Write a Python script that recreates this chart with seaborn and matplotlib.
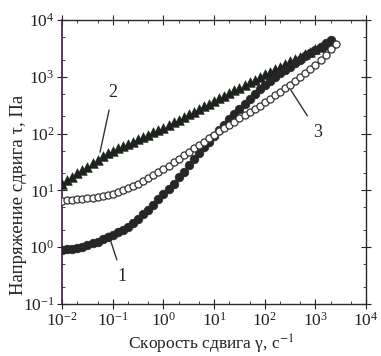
import pandas as pd
import seaborn as sns
import matplotlib
matplotlib.use("Agg")
import matplotlib.pyplot as plt
from matplotlib.ticker import LogLocator, NullFormatter

# shear rate grid, 1/s (~10 points per decade)
gamma = [0.01, 0.0126, 0.0158, 0.02, 0.0251, 0.0316, 0.0398, 0.0501, 0.0631, 0.0794,
         0.1, 0.126, 0.158, 0.2, 0.251, 0.316, 0.398, 0.501, 0.631, 0.794,
         1, 1.26, 1.58, 2.0, 2.51, 3.16, 3.98, 5.01, 6.31, 7.94,
         10, 12.6, 15.8, 20, 25.1, 31.6, 39.8, 50.1, 63.1, 79.4,
         100, 126, 158, 200, 251, 316, 398, 501, 631, 794,
         1000, 1259, 1585, 1995, 2512]

# curve 1 - filled circles
tau1 = [0.891, 0.912, 0.933, 0.977, 1.02, 1.10, 1.18, 1.26, 1.38, 1.51,
        1.66, 1.82, 2.04, 2.29, 2.69, 3.16, 3.80, 4.57, 5.62, 6.92,
        8.51, 10.5, 13.2, 17.0, 21.4, 27.5, 35.5, 44.7, 57.5, 72.4,
        91.2, 115, 141, 178, 219, 269, 331, 407, 501, 617,
        724, 851, 1000, 1148, 1318, 1514, 1738, 1995, 2291, 2630,
        2951, 3388, 3890, 4365]

# curve 2 - triangles
tau2 = [13.2, 15.1, 17.4, 20.0, 22.9, 26.3, 30.2, 34.7, 39.8, 44.7,
        50.1, 55.0, 60.3, 66.1, 72.4, 79.4, 87.1, 95.5, 105, 115,
        126, 141, 158, 174, 195, 219, 240, 269, 302, 331,
        372, 417, 457, 513, 575, 631, 708, 794, 871, 977,
        1096, 1202, 1349, 1514, 1660, 1862, 2042, 2239, 2512, 2754,
        3020, 3311, 3631, 3981]

# curve 3 - open circles
tau3 = [6.61, 6.76, 6.76, 6.92, 7.08, 7.24, 7.41, 7.76, 7.94, 8.32,
        8.71, 9.33, 10.0, 11.0, 12.0, 13.2, 14.8, 16.6, 18.6, 20.9,
        23.4, 26.9, 31.6, 36.3, 41.7, 47.9, 55.0, 63.1, 72.4, 83.2,
        95.5, 110, 126, 141, 162, 186, 214, 240, 275, 309,
        355, 407, 468, 537, 631, 724, 851, 977, 1148, 1349,
        1585, 1950, 2399, 3020, 3802]

sns.set_style("ticks")
plt.rcParams["font.family"] = ["Liberation Serif", "DejaVu Serif"]
plt.rcParams["mathtext.fontset"] = "stix"

fig = plt.figure(figsize=(3.81, 3.56), dpi=100)
ax = fig.add_axes([0.163, 0.146, 0.798, 0.798])

sns.scatterplot(x=gamma[:54], y=tau2, marker="^", s=48, color="#1c221c",
                edgecolor="#1c221c", linewidth=0.4, ax=ax, zorder=3)
sns.scatterplot(x=gamma[:54], y=tau1, marker="o", s=40, color="#262626",
                edgecolor="#262626", linewidth=0.4, ax=ax, zorder=4)
sns.scatterplot(x=gamma, y=tau3, marker="o", s=26, facecolor="white",
                edgecolor="#333333", linewidth=0.9, ax=ax, zorder=5)

ax.set_xscale("log")
ax.set_yscale("log")
ax.set_xlim(1e-2, 1e4)
ax.set_ylim(1e-1, 1e4)

ax.xaxis.set_major_locator(LogLocator(base=10, numticks=10))
ax.yaxis.set_major_locator(LogLocator(base=10, numticks=10))
ax.xaxis.set_minor_locator(LogLocator(base=10, subs=[2, 5], numticks=10))
ax.yaxis.set_minor_locator(LogLocator(base=10, subs=[2, 5], numticks=10))
ax.xaxis.set_minor_formatter(NullFormatter())
ax.yaxis.set_minor_formatter(NullFormatter())
ax.tick_params(which="major", direction="inout", length=7, width=0.8,
               top=True, right=True, labelsize=12.5, colors="#222222", pad=2)
ax.tick_params(which="minor", direction="in", length=2.5, width=0.6,
               top=True, right=True)

for side in ["top", "right", "bottom"]:
    ax.spines[side].set_color("#2a2a2a")
    ax.spines[side].set_linewidth(1.0)
ax.spines["left"].set_color("#4a2a52")
ax.spines["left"].set_linewidth(1.3)

ax.set_xlabel("Скорость сдвига γ, с$^{-1}$", fontsize=12.5, color="#222222")
ax.set_ylabel("Напряжение сдвига τ, Па", fontsize=13.5, color="#222222")
ax.xaxis.set_label_coords(0.49, -0.1)
ax.yaxis.set_label_coords(-0.115, 0.385)

# curve labels with leader lines
line = dict(arrowstyle="-", color="#333333", lw=1.0, shrinkA=4, shrinkB=0)
ax.annotate("2", xy=(0.056, 47), xytext=(0.1, 520), fontsize=13,
            ha="center", va="center", arrowprops=line)
ax.annotate("3", xy=(324, 590), xytext=(1120, 105), fontsize=13,
            ha="center", va="center", arrowprops=line)
ax.annotate("1", xy=(0.081, 1.77), xytext=(0.155, 0.30), fontsize=13,
            ha="center", va="center", arrowprops=line)

fig.savefig("out.png", dpi=100)
